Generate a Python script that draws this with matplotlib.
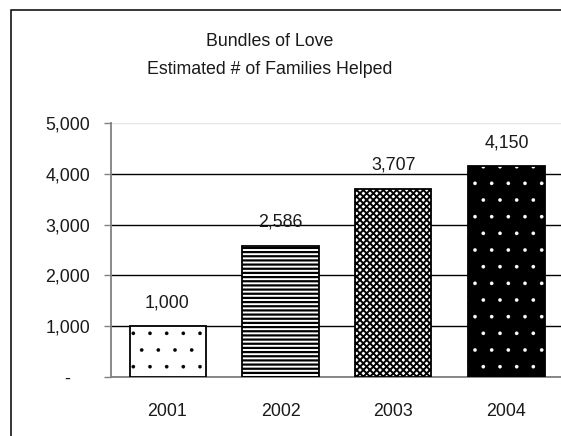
import matplotlib
matplotlib.use("Agg")
import matplotlib.pyplot as plt
import matplotlib.colors as mcolors
from matplotlib.patches import Rectangle

years = ["2001", "2002", "2003", "2004"]
families = [1000, 2586, 3707, 4150]
value_labels = ["1,000", "2,586", "3,707", "4,150"]
ytick_values = [0, 1000, 2000, 3000, 4000, 5000]
ytick_labels = ["-    ", "1,000", "2,000", "3,000", "4,000", "5,000"]
title_lines = ["Bundles of Love", "Estimated # of Families Helped"]

plt.rcParams['font.family'] = ['Liberation Sans', 'DejaVu Sans']
plt.rcParams['hatch.linewidth'] = 1.4

W, H = 561, 436
FS = 12.8
TXT = '#1a1a1a'
fig = plt.figure(figsize=(W / 100, H / 100), dpi=100)

# outer chart frame (cropped at right and bottom)
fig.patches.append(Rectangle((11 / W, -0.05), 1.2, 1 - 10 / H + 0.05,
                             transform=fig.transFigure, fill=False,
                             edgecolor='black', linewidth=1.1))

left, right, bottom, top = 111, 563, 377, 123
ax = fig.add_axes([left / W, 1 - bottom / H, (right - left) / W, (bottom - top) / H])

x = list(range(len(years)))
faces = ['white', 'white', 'white', 'black']
hatches = ['.', '----', 'xxxxx', '.']
hatch_cols = ['black', 'black', 'black', 'white']
hatch_lws = [0.2, 1.6, 1.4, 0.2]
bars = ax.bar(x, families, width=76 / 113, color=faces, edgecolor='black',
              linewidth=1.3, zorder=3)
for b, h, hc, hl in zip(bars, hatches, hatch_cols, hatch_lws):
    b.set_hatch(h)
    try:
        b.set_hatchcolor(hc)
    except AttributeError:
        b._hatch_color = mcolors.to_rgba(hc)
    if hasattr(b, 'set_hatch_linewidth'):
        b.set_hatch_linewidth(hl)

for xi, v, lab in zip(x, families, value_labels):
    ax.annotate(lab, (xi, v), xytext=(0, 17), textcoords='offset points',
                ha='center', va='center', fontsize=FS, color=TXT)

ax.set_xlim(-0.5, len(years) - 0.5)
ax.set_ylim(0, 5000)
ax.set_xticks(x)
ax.set_xticklabels(years, fontsize=FS, color=TXT)
ax.set_yticks(ytick_values)
ax.set_yticklabels(ytick_labels, fontsize=FS, color=TXT)
ax.tick_params(axis='x', length=0, pad=19)
ax.tick_params(axis='y', length=5, width=1, color='#808080', pad=10, direction='out')

ax.yaxis.grid(True, color='black', linewidth=1)
ax.set_axisbelow(True)
gl = ax.get_ygridlines()
gl[-1].set_color('#e6e6e6')

for s in ['top', 'right']:
    ax.spines[s].set_visible(False)
ax.spines['left'].set_color('#808080')
ax.spines['bottom'].set_color('#808080')
ax.spines['left'].set_linewidth(1.3)
ax.spines['bottom'].set_linewidth(1.3)

fig.text(270 / W, 1 - 41 / H, title_lines[0], ha='center', va='center',
         fontsize=FS, color=TXT)
fig.text(270 / W, 1 - 69 / H, title_lines[1], ha='center', va='center',
         fontsize=FS, color=TXT)

fig.savefig("out.png", dpi=100)
